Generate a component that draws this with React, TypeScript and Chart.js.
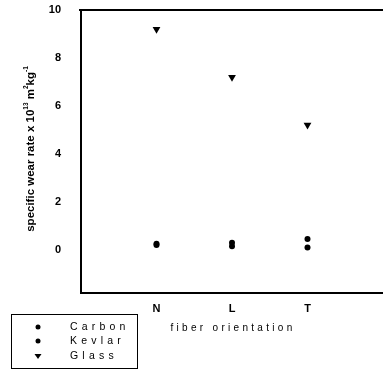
import React, { useEffect, useRef } from "react";
import { Chart, registerables } from "chart.js";

Chart.register(...registerables);

const categories = ["N", "L", "T"];
const carbon = [0.2, 0.15, 0.45];
const kevlar = [0.25, 0.3, 0.1];
const glass = [9.2, 7.2, 5.2];
const yTicks = [0, 2, 4, 6, 8, 10];
const seriesNames = ["Carbon", "Kevlar", "Glass"];

const FONT = "'Liberation Sans', Arial, sans-serif";

const zeroPad = (s: any) => {
  s.paddingTop = 0;
  s.paddingBottom = 0;
  s.paddingLeft = 0;
  s.paddingRight = 0;
};

const decor = {
  id: "decor",
  afterDraw(chart: any) {
    const ctx = chart.ctx as CanvasRenderingContext2D;
    const a = chart.chartArea;
    ctx.save();
    // top border
    ctx.strokeStyle = "#000";
    ctx.lineWidth = 2;
    ctx.beginPath();
    ctx.moveTo(a.left - 2, a.top);
    ctx.lineTo(a.right, a.top);
    ctx.stroke();

    // x title
    ctx.fillStyle = "#000";
    ctx.font = `10px ${FONT}`;
    (ctx as any).letterSpacing = "3.3px";
    ctx.textAlign = "center";
    ctx.textBaseline = "middle";
    ctx.fillText("fiber orientation", (a.left + a.right) / 2 + 1, 328);

    // legend
    ctx.lineWidth = 1;
    ctx.strokeRect(11.5, 314.5, 126, 54);
    ctx.textAlign = "left";
    ctx.font = `10.5px ${FONT}`;
    (ctx as any).letterSpacing = "4.2px";
    const rows = [327, 341, 356];
    seriesNames.forEach((n, i) => {
      const y = rows[i];
      ctx.fillText(n, 70, y);
      ctx.beginPath();
      if (i < 2) {
        ctx.arc(38, y, 2.5, 0, Math.PI * 2);
      } else {
        ctx.moveTo(34.5, y - 2);
        ctx.lineTo(41.5, y - 2);
        ctx.lineTo(38, y + 3);
        ctx.closePath();
      }
      ctx.fill();
    });

    // y title
    (ctx as any).letterSpacing = "0px";
    ctx.translate(31, 149);
    ctx.rotate(-Math.PI / 2);
    const parts: [string, boolean][] = [
      ["specific wear rate x 10", false],
      ["13", true],
      [" m", false],
      ["2", true],
      ["kg", false],
      ["-1", true],
    ];
    const big = `bold 11.5px ${FONT}`;
    const small = `bold 6.5px ${FONT}`;
    let total = 0;
    parts.forEach(([t, s]) => {
      ctx.font = s ? small : big;
      total += ctx.measureText(t).width;
    });
    let x = -total / 2;
    ctx.textAlign = "left";
    parts.forEach(([t, s]) => {
      ctx.font = s ? small : big;
      ctx.fillText(t, x, s ? -5 : 0);
      x += ctx.measureText(t).width;
    });
    ctx.restore();
  },
};

export default function App() {
  const ref = useRef<HTMLCanvasElement>(null);
  useEffect(() => {
    const mk = (vals: number[]) => categories.map((c, i) => ({ x: i + 1, y: vals[i] }));
    const chart = new Chart(ref.current!, {
      type: "scatter",
      data: {
        datasets: [
          { label: seriesNames[0], data: mk(carbon), pointStyle: "circle", pointRadius: 3, backgroundColor: "#000", borderColor: "#000", borderWidth: 0 },
          { label: seriesNames[1], data: mk(kevlar), pointStyle: "circle", pointRadius: 3, backgroundColor: "#000", borderColor: "#000", borderWidth: 0 },
          { label: seriesNames[2], data: mk(glass), pointStyle: "triangle", pointRotation: 180, pointRadius: 4.5, backgroundColor: "#000", borderColor: "#000", borderWidth: 0 },
        ],
      },
      options: {
        animation: false,
        responsive: false,
        devicePixelRatio: 1,
        clip: false,
        layout: { autoPadding: false, padding: { top: 10, left: 0, right: 0, bottom: 0 } },
        plugins: { legend: { display: false }, tooltip: { enabled: false }, title: { display: false } },
        scales: {
          x: {
            type: "linear",
            min: 0,
            max: 4,
            afterBuildTicks: (s: any) => {
              s.ticks = categories.map((c, i) => ({ value: i + 1 }));
            },
            afterFit: (s: any) => {
              s.height = 79;
              zeroPad(s);
            },
            ticks: {
              callback: (v: any) => categories[Number(v) - 1] ?? "",
              font: { family: FONT, size: 11, weight: "bold" },
              color: "#000",
              padding: 9,
              maxRotation: 0,
            },
            grid: { display: false, drawTicks: false },
            border: { color: "#000", width: 2 },
          },
          y: {
            type: "linear",
            min: -1.8,
            max: 10,
            afterBuildTicks: (s: any) => {
              s.ticks = yTicks.map((v) => ({ value: v }));
            },
            afterFit: (s: any) => {
              s.width = 81;
              zeroPad(s);
            },
            ticks: {
              font: { family: FONT, size: 11, weight: "bold" },
              color: "#000",
              padding: 20,
            },
            grid: { display: false, drawTicks: false },
            border: { color: "#000", width: 2 },
          },
        },
      },
      plugins: [decor],
    });
    return () => chart.destroy();
  }, []);
  return (
    <div style={{ position: "fixed", left: 0, top: 0, width: 383, height: 372, background: "#fff" }}>
      <canvas ref={ref} width={383} height={372} style={{ display: "block" }} />
    </div>
  );
}
